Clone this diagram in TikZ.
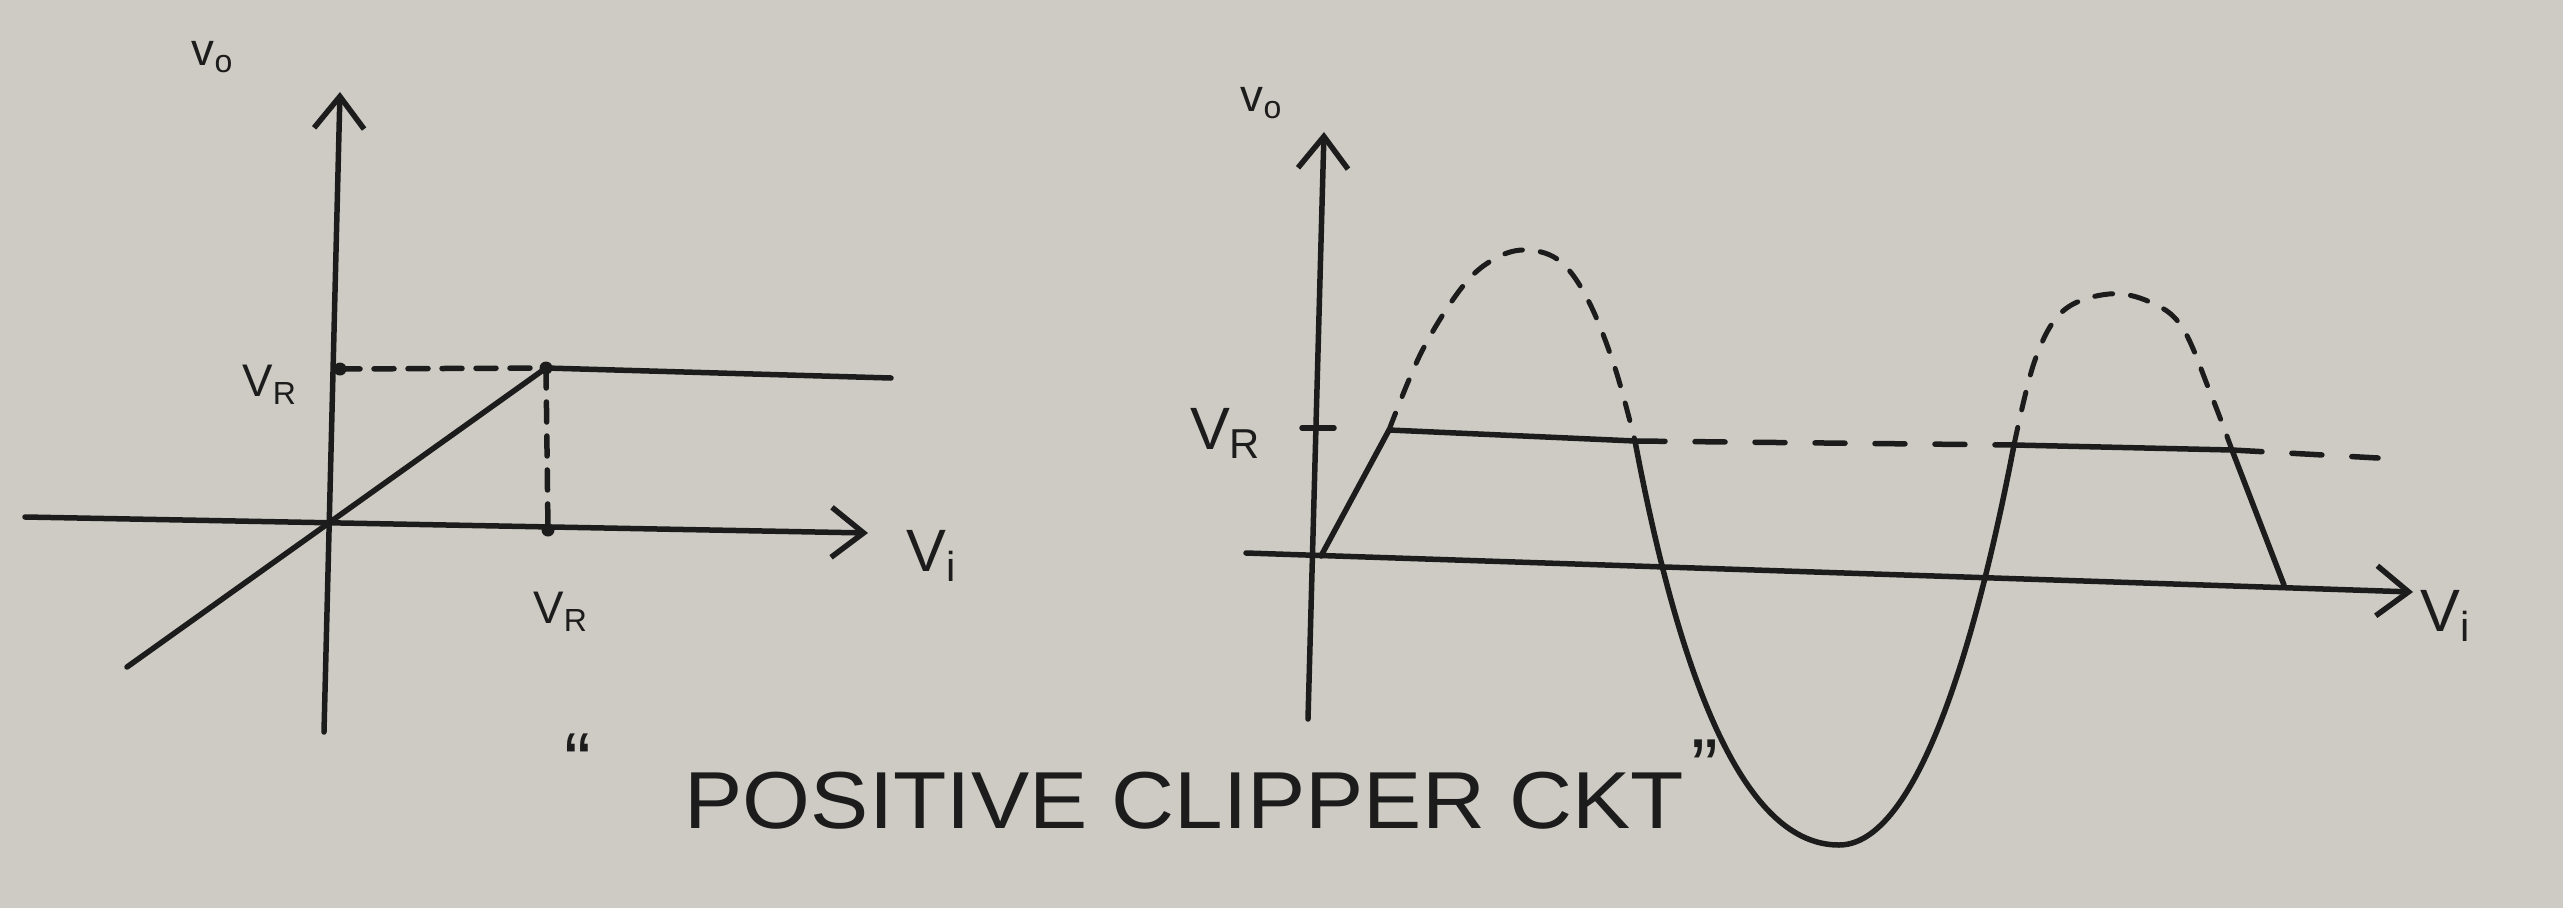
\documentclass[tikz,border=0pt]{standalone}
\usepackage{fontspec}
\setmainfont{Liberation Sans}
\usetikzlibrary{arrows.meta}
\definecolor{paper}{RGB}{205,203,195}
\definecolor{ink}{RGB}{28,28,28}
\begin{document}
\begin{tikzpicture}[x=0.1mm,y=-0.1mm,line cap=round,line join=round,
  axis/.style={draw=ink,line width=0.55mm,-{Straight Barb[length=3.2mm,width=5mm,line width=0.55mm]}},
  solidcurve/.style={draw=ink,line width=0.55mm},
  dashline/.style={draw=ink,line width=0.55mm,dash pattern=on 2mm off 1.4mm},
  dashwide/.style={draw=ink,line width=0.55mm,dash pattern=on 3mm off 3mm},
  dashpeak/.style={draw=ink,line width=0.5mm,dash pattern=on 1.8mm off 1.8mm},
  dotmark/.style={fill=ink,circle,inner sep=0pt,minimum size=1.3mm},
  lbl/.style={text=ink,inner sep=0pt,font=\fontsize{13pt}{15pt}\selectfont},
  biglbl/.style={text=ink,inner sep=0pt,font=\fontsize{17pt}{19pt}\selectfont},
  title/.style={text=ink,inner sep=0pt,font=\fontsize{23pt}{26pt}\selectfont}]
\fill[paper] (0,0) rectangle (2563,908);
\useasboundingbox (0,0) rectangle (2563,908);

% ---------- left graph: transfer characteristic ----------
\coordinate (Ly0) at (324,732);
\coordinate (Ly1) at (340,92);
\coordinate (Lx0) at (25,517);
\coordinate (Lx1) at (868,533);
\coordinate (Ld) at (127,667);
\coordinate (Lr) at (891,378);
\node[dotmark] (P) at (546,368) {};
\node[dotmark] (Lt) at (340,369) {};
\node[dotmark] (Lb) at (548,530) {};

\draw[axis] (Ly0) -- (Ly1);
\draw[axis] (Lx0) -- (Lx1);
\draw[solidcurve] (Ld) -- (P.center) -- (Lr);
\draw[dashline] (Lt.center) -- (P.center);
\draw[dashline] (P.center) -- (Lb.center);

\node[lbl] (Lvo) at (213,57) {v\textsubscript{o}};
\node[lbl] (LvR1) at (270,385) {V\textsubscript{R}};
\node[lbl] (LvR2) at (561,612) {V\textsubscript{R}};
\node[biglbl] (Lvi) at (932,556) {V\textsubscript{i}};

% ---------- right graph: output waveform ----------
\coordinate (Ry0) at (1308,719);
\coordinate (Ry1) at (1324,132);
\coordinate (Rx0) at (1246,553);
\coordinate (Rx1) at (2413,592);
\coordinate (O2) at (1321,556);
\coordinate (A) at (1389,430);
\coordinate (B) at (1635,441);
\coordinate (C) at (1839,845);
\coordinate (D) at (2014,445);
\coordinate (E) at (2232,450);
\coordinate (F) at (2284,585);
\coordinate (T0) at (1302,428);
\coordinate (T1) at (1334,428);
\coordinate (G) at (2378,458);

\draw[axis] (Ry0) -- (Ry1);
\draw[axis] (Rx0) -- (Rx1);

% clipped output (solid)
\draw[solidcurve] (O2) -- (A) -- (B)
  .. controls (1695,760) and (1770,845) .. (C)
  .. controls (1905,845) and (1965,700) .. (D)
  -- (E) -- (F);

% clipped-off peaks (dashed)
\draw[dashpeak] plot[smooth,tension=0.6] coordinates
  {(1389,430) (1422,351) (1463,286) (1496,258) (1528,250) (1561,262)
   (1589,302) (1615,368) (1635,441)};
\draw[dashpeak] plot[smooth,tension=0.6] coordinates
  {(2014,445) (2035,360) (2063,311) (2109,294) (2150,302) (2182,327)
   (2210,392) (2232,450)};

% reference level V_R (dashed)
\draw[solidcurve] (T0) -- (T1);
\draw[dashwide] (B) -- (D);
\draw[dashwide] (E) -- (G);

\node[lbl] (Rvo) at (1262,103) {v\textsubscript{o}};
\node[biglbl] (RvR) at (1226,433) {V\textsubscript{R}};
\node[biglbl] (Rvi) at (2446,616) {V\textsubscript{i}};

% ---------- caption ----------
\node[title] (q1) at (578,762) {``};
\node[title,anchor=base west,xscale=1.08] (cap) at (684,828) {POSITIVE CLIPPER CKT};
\node[title,anchor=south west] (q2) at ([xshift=0.6mm,yshift=-2.5mm]cap.north east) {''};
\end{tikzpicture}
\end{document}
